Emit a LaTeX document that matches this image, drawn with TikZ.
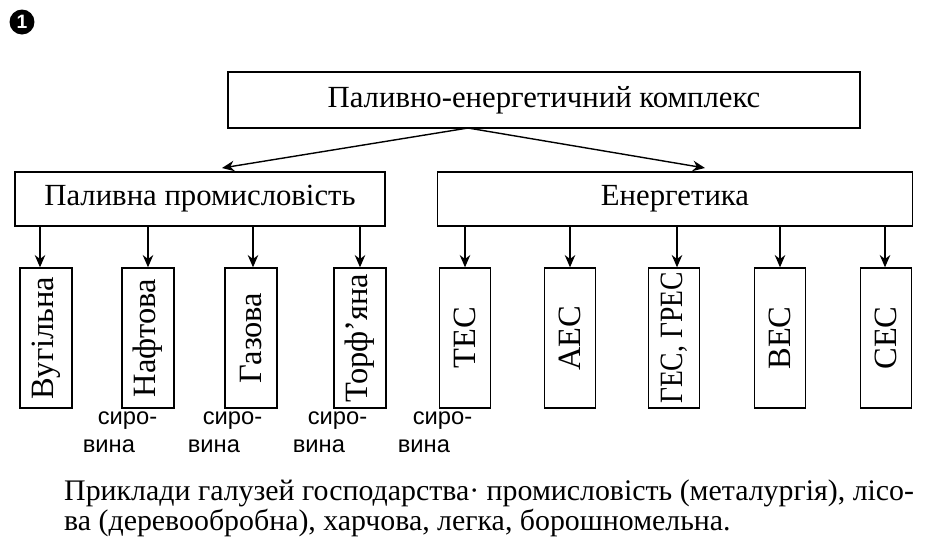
\documentclass[tikz,border=0pt]{standalone}
\usepackage{fontspec}
\setmainfont{Liberation Serif}
\newfontfamily\labfont{Liberation Sans}
\usetikzlibrary{positioning, arrows.meta}
\begin{document}
\begin{tikzpicture}[
  x=0.02cm, y=-0.02cm,
  font=\fontsize{17.5}{20}\selectfont,
  box/.style={draw, thick, inner sep=0pt},
  arr/.style={thick, -{Stealth[length=7pt, width=6pt]}},
  branch/.style={box, minimum height=2.8cm, font=\fontsize{18.5}{20}\selectfont},
  raw/.style={font=\labfont\fontsize{13.5}{15}\selectfont, align=left}
]
\useasboundingbox (0,0) rectangle (952,552);

\node[circle, fill=black, text=white, inner sep=0pt, minimum size=0.5cm,
  font=\labfont\bfseries\fontsize{11}{12}\selectfont] (num) at (22,22) {1};

% boxes
\node[box, minimum width=12.64cm, minimum height=1.12cm] (complex) at (544,100)
  {Паливно-енергетичний комплекс};
\node[box, minimum width=7.4cm, minimum height=1.08cm] (fuel) at (200,199)
  {Паливна промисловість};
\node[box, minimum width=9.5cm, minimum height=1.08cm] (energy) at (675,199)
  {Енергетика};

\coordinate (top) at (468,128);
\draw[arr] (top) -- (222,168);
\draw[arr] (top) -- (705,168);

% branches
\foreach \name/\x/\ax/\txt in {coal/46/40/Вугільна, oil/148/148/Нафтова,
    gas/251/253/Газова, peat/360/360/Торф'яна}{
  \node[branch, minimum width=1.04cm] (\name) at (\x,338) {\rotatebox{90}{\txt}};
  \draw[arr] (\ax,226) -- (\name.north -| \ax,0);
}
\foreach \name/\x/\ax/\txt in {tes/465/465/ТЕС, aes/570/570/АЕС,
    ges/674/677/{\scalebox{0.85}[1]{ГЕС, ГРЕС}}, ves/780/780/ВЕС, ses/886/885/СЕС}{
  \node[branch, minimum width=1.02cm] (\name) at (\x,338) {\rotatebox{90}{\txt}};
  \draw[arr] (\ax,226) -- (\name.north -| \ax,0);
}

% raw material notes
\foreach \n/\x in {r1/120, r2/225, r3/330, r4/435}
  \node[raw] (\n) at (\x,432) {\hspace*{0.3cm}сиро-\\[1pt]вина};

% bottom text
\node[anchor=west, align=left, font=\fontsize{17}{17}\selectfont] (note) at (58,508)
  {Приклади галузей господарства· промисловість (металургія), лісо-\\
   ва (деревообробна), харчова, легка, борошномельна.};
\end{tikzpicture}
\end{document}
